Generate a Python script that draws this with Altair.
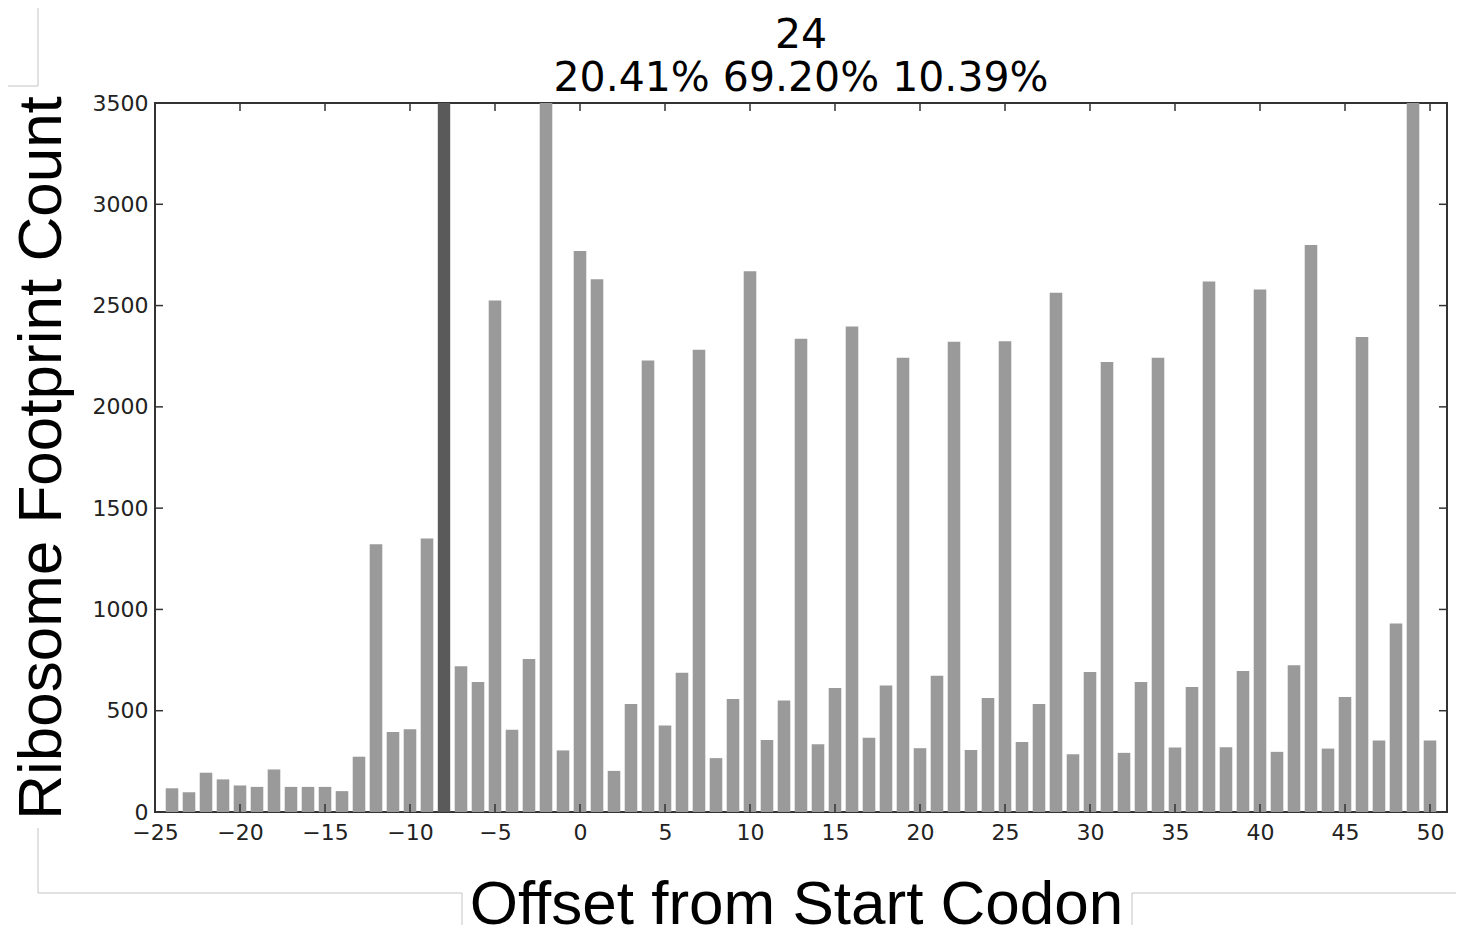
import altair as alt
import pandas as pd

# ---- data ----
offsets = list(range(-24, 51))
counts = [117, 98, 194, 161, 131, 124, 210, 124, 124, 124, 103, 273, 1322, 395, 409, 1350,
          None,
          719, 642, 2525, 406, 755, 3900, 304,
          2770, 2630, 203, 533, 2229, 427, 687, 2282, 266, 558,
          2670, 355, 551, 2336, 334, 612, 2397, 367, 624, 2243,
          315, 673, 2322, 306, 563, 2324, 346, 533, 2563, 285,
          691, 2222, 292, 642, 2243, 318, 617, 2619, 320, 696,
          2579, 297, 724, 2799, 313, 568, 2345, 353, 930, 3700, 353]
marker_offset = [-8]
x_ticks = list(range(-25, 51, 5))
y_ticks = list(range(0, 3501, 500))
title_lines = ["24", "20.41% 69.20% 10.39%"]
x_title = "Offset from Start Codon"
y_title = "Ribosome Footprint Count"

W, H = 1292, 709
TICK = 8

df = pd.DataFrame({"offset": offsets, "count": counts}).dropna()
xt = pd.DataFrame({"t": x_ticks})
yt = pd.DataFrame({"t": y_ticks})
mk = pd.DataFrame({"offset": marker_offset})
one = pd.DataFrame({"a": [0]})

xscale = alt.Scale(domain=[-25, 51], nice=False, zero=False)
yscale = alt.Scale(domain=[0, 3500], nice=False)

x_axis = alt.Axis(values=x_ticks, domain=False, ticks=False, grid=False, format="d",
                  labelFont="DejaVu Sans", labelFontSize=22, labelColor="#222",
                  labelPadding=10, labelFlush=False,
                  title=x_title, titleFont="Liberation Sans", titleFontSize=62,
                  titleFontWeight="normal", titleColor="black",
                  titleX=641, titleY=111, titleBaseline="alphabetic",
                  titleAlign="center", titleAngle=0)
y_axis = alt.Axis(values=y_ticks, domain=False, ticks=False, grid=False, format="d",
                  labelFont="DejaVu Sans", labelFontSize=22, labelColor="#222",
                  labelPadding=7, labelFlush=False,
                  title=y_title, titleFont="Liberation Sans", titleFontSize=62,
                  titleFontWeight="normal", titleColor="black",
                  titleX=-95, titleY=H / 2, titleAngle=270,
                  titleBaseline="alphabetic", titleAlign="center")

bars = alt.Chart(df).transform_calculate(
    x0="datum.offset - 0.37", x1="datum.offset + 0.37"
).mark_bar(color="#9a9a9a", clip=True, strokeWidth=0).encode(
    x=alt.X("x0:Q", scale=xscale, axis=x_axis),
    x2="x1:Q",
    y=alt.Y("count:Q", scale=yscale, axis=y_axis),
    y2=alt.datum(0),
)

marker = alt.Chart(mk).mark_rule(color="#5a5a5a", strokeWidth=12.4, strokeCap="butt").encode(
    x=alt.X("offset:Q", scale=xscale, axis=x_axis),
    y=alt.value(0), y2=alt.value(H),
)

tick_style = dict(color="#333", strokeWidth=1.5)
bottom_ticks = alt.Chart(xt).mark_rule(**tick_style).encode(
    x=alt.X("t:Q", scale=xscale, axis=x_axis), y=alt.value(H), y2=alt.value(H - TICK))
top_ticks = alt.Chart(xt).mark_rule(**tick_style).encode(
    x=alt.X("t:Q", scale=xscale, axis=x_axis), y=alt.value(0), y2=alt.value(TICK))
left_ticks = alt.Chart(yt).mark_rule(**tick_style).encode(
    y=alt.Y("t:Q", scale=yscale, axis=y_axis), x=alt.value(0), x2=alt.value(TICK))
right_ticks = alt.Chart(yt).mark_rule(**tick_style).encode(
    y=alt.Y("t:Q", scale=yscale, axis=y_axis), x=alt.value(W), x2=alt.value(W - TICK))

# decorative light-gray panel frame lines seen around the figure
deco_color = "#c4c4c4"
def deco(x, x2, y, y2):
    return alt.Chart(one).mark_rule(color=deco_color, strokeWidth=1).encode(
        x=alt.value(x), x2=alt.value(x2), y=alt.value(y), y2=alt.value(y2))

decos = [
    deco(-117, -117, -103, -17),
    deco(-155, -117, -17, -17),
    deco(-117, -117, 725, 790),
    deco(-117, 307, 790, 790),
    deco(307, 307, 790, 836),
    deco(977, 977, 790, 836),
    deco(977, 1309, 790, 790),
]

chart = alt.layer(bars, marker, bottom_ticks, top_ticks, left_ticks, right_ticks, *decos).properties(
    width=W, height=H,
    title=alt.TitleParams(text=title_lines, font="DejaVu Sans", fontSize=41,
                          fontWeight="normal", color="black", lineHeight=43,
                          anchor="middle", frame="group", offset=0, dy=100),
    autosize=alt.AutoSizeParams(type="none"),
    padding={"left": 147, "top": 95, "right": 9, "bottom": 113},
).configure_view(stroke="#333", strokeWidth=2)

chart.save("out.html", embed_options={"renderer": "svg", "actions": False})
